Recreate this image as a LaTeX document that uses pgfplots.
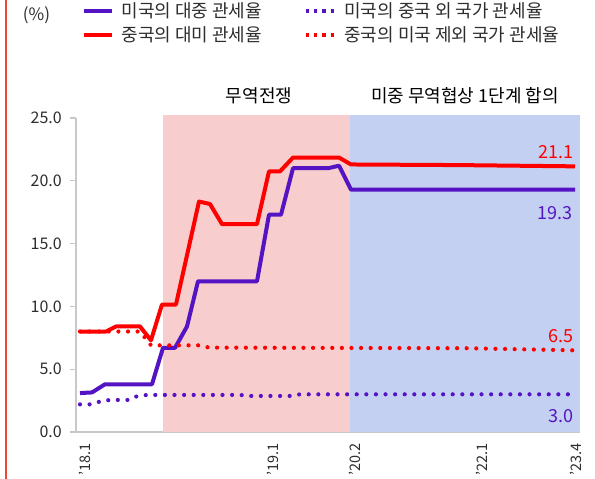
\documentclass[border=0pt]{standalone}
\usepackage{pgfplots}
\pgfplotsset{compat=1.18}
\usepackage{fontspec}
\setmainfont{Noto Sans CJK KR}
\definecolor{cpur}{RGB}{85,20,195}
\definecolor{cred}{RGB}{255,0,0}
\definecolor{cpink}{RGB}{248,205,205}
\definecolor{cblue}{RGB}{195,208,242}
\definecolor{cleft}{RGB}{240,70,55}
\definecolor{cgray}{RGB}{200,200,200}
\definecolor{ctext}{RGB}{45,45,45}
\pgfplotsset{
  solidleg/.style={legend image code/.code={\draw[##1, line width=3.5pt, line cap=butt] (0pt,0pt) -- (28pt,0pt);}},
  dotleg/.style={legend image code/.code={\draw[##1, line width=3.3pt, line cap=butt, dash pattern=on 3.3pt off 5pt] (0pt,0pt) -- (29pt,0pt);}},
}
\begin{document}
\begin{tikzpicture}[x=1pt,y=1pt]
\path[use as bounding box] (0,0) rectangle (595,479);
\draw[cleft, line width=2.3pt] (6,0) -- (6,479);
\begin{axis}[
  at={(76pt,47pt)}, anchor=south west,
  scale only axis, width=504pt, height=314pt,
  xmin=76, xmax=580, ymin=0, ymax=25,
  clip=false,
  axis x line*=bottom, axis y line*=left,
  axis line style={cgray, line width=1.3pt},
  xtick={85,273,355,482,576},
  xticklabels={'18.1,'19.1,'20.2,'22.1,'23.4},
  xtick style={draw=none},
  ytick={0,5,10,15,20,25},
  tick align=outside,
  ytick style={cgray, line width=1.3pt},
  major tick length=6pt,
  /pgf/number format/assume math mode=true,
  yticklabel style={/pgf/number format/fixed, /pgf/number format/fixed zerofill, /pgf/number format/precision=1},
  yticklabel style={font=\fontsize{16}{16}\selectfont, text=ctext, anchor=east, inner sep=0pt, xshift=-8pt},
  xticklabel style={font=\fontsize{14.5}{14.5}\selectfont, text=ctext, rotate=90, anchor=east, inner sep=0pt, xshift=-5.5pt},
  legend columns=2,
  legend cell align=left,
  legend style={draw=none, fill=none, at={(axis description cs:0.0119,1.366)}, anchor=north west,
    inner sep=0pt, outer sep=0pt, row sep=8pt,
    nodes={inner sep=0pt, text height=14pt, text depth=2pt, font=\fontsize{18}{18}\selectfont, text=ctext},
    /tikz/every odd column/.style={column sep=8pt},
    /tikz/every even column/.style={column sep=42pt}},
]
\addplot[fill=cpink, draw=none, forget plot] coordinates {(163,25.25) (350,25.25)} \closedcycle;
\addplot[fill=cblue, draw=none, forget plot] coordinates {(350,25.25) (580,25.25)} \closedcycle;

\addplot[cpur, line width=4pt, line join=round, solidleg] coordinates {
(80,3.1) (92,3.15) (105,3.8) (152,3.8) (163,6.7) (175,6.7) (187,8.4) (198,12.0) (257,12.0) (269,17.3) (281,17.3) (293,21.0) (328,21.0) (339,21.2) (351,19.3) (575,19.3)};
\addlegendentry{미국의 대중 관세율}
\addplot[cpur, line width=4.2pt, line cap=round, dash pattern=on 0pt off 9.6pt, dotleg] coordinates {
(80,2.2) (91,2.2) (101,2.45) (110,2.55) (129,2.55) (137,2.85) (147,2.95) (240,2.95) (250,2.87) (290,2.87) (300,3.0) (575,3.0)};
\addlegendentry{미국의 중국 외 국가 관세율}
\addplot[cred, line width=4pt, line join=round, solidleg] coordinates {
(80,8.0) (106,8.0) (116,8.4) (140,8.4) (151,7.3) (162,10.15) (176,10.15) (199,18.35) (210,18.15) (222,16.55) (257,16.55) (269,20.75) (280,20.75) (293,21.85) (339,21.85) (351,21.3) (460,21.25) (575,21.15)};
\addlegendentry{중국의 대미 관세율}
\addplot[cred, line width=4.2pt, line cap=round, dash pattern=on 0pt off 9.6pt, dotleg] coordinates {
(80,8.0) (140,8.0) (151,6.9) (200,6.9) (209,6.72) (467,6.67) (575,6.5)};
\addlegendentry{중국의 미국 제외 국가 관세율}

\node[anchor=east, inner sep=0pt, text=cred, font=\fontsize{18}{18}\selectfont] at (axis cs:574,22.3) {21.1};
\node[anchor=east, inner sep=0pt, text=cpur, font=\fontsize{18}{18}\selectfont] at (axis cs:573,17.4) {19.3};
\node[anchor=east, inner sep=0pt, text=cred, font=\fontsize{18}{18}\selectfont] at (axis cs:574,7.6) {6.5};
\node[anchor=east, inner sep=0pt, text=cpur, font=\fontsize{18}{18}\selectfont] at (axis cs:574,1.25) {3.0};
\node[inner sep=0pt, font=\fontsize{18}{18}\selectfont, text=black] at (axis cs:259,26.8) {무역전쟁};
\node[inner sep=0pt, font=\fontsize{18}{18}\selectfont, text=black] at (axis cs:465,26.8) {미중 무역협상 1단계 합의};
\node[inner sep=0pt, font=\fontsize{17}{17}\selectfont, text=ctext] at (axis cs:36.5,33.2) {(\%)};
\end{axis}
\end{tikzpicture}
\end{document}
